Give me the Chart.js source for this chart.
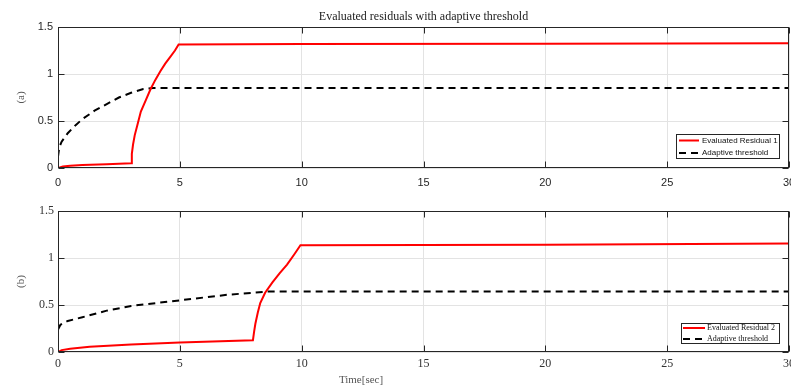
<!DOCTYPE html>
<html>
<head>
<meta charset="utf-8">
<script src="https://cdn.jsdelivr.net/npm/chart.js@4.4.1/dist/chart.umd.min.js"></script>
<style>
	html, body { margin: 0; padding: 0; background: #fff; }
	#wrap { position: relative; width: 791px; height: 387px; overflow: hidden; }
	canvas { position: absolute; left: 0; }
	#chartA { top: 0; }
	#chartB { top: 193px; }
</style>
</head>
<body>
<div id="wrap">
	<canvas id="chartA" width="791" height="193"></canvas>
	<canvas id="chartB" width="791" height="194"></canvas>
</div>
<script>
// tick labels
var xTicks = [0, 5, 10, 15, 20, 25, 30];
var yTicks = [0, 0.5, 1, 1.5];

// (a) residual 1 and its threshold
var res1Time = [0, 0.2, 0.5, 1, 2, 3, 3.03, 3.08, 3.15, 3.25, 3.4, 3.6, 3.8, 4.0, 4.2, 4.4, 4.6, 4.8, 4.95, 10, 20, 30];
var res1Vals = [0, 0.015, 0.025, 0.032, 0.04, 0.05, 0.15, 0.25, 0.35, 0.45, 0.6, 0.72, 0.84, 0.94, 1.03, 1.11, 1.18, 1.25, 1.315, 1.318, 1.322, 1.328];
var thr1Time = [0, 0.05, 0.15, 0.4, 0.7, 1, 1.5, 2, 2.5, 3, 3.5, 3.9, 30];
var thr1Vals = [0.12, 0.22, 0.28, 0.37, 0.45, 0.52, 0.61, 0.68, 0.75, 0.8, 0.84, 0.852, 0.852];

// (b) residual 2 and its threshold
var res2Time = [0, 0.15, 0.5, 1.3, 3, 5, 8, 8.05, 8.1, 8.2, 8.3, 8.5, 8.8, 9.1, 9.4, 9.7, 9.95, 20, 30];
var res2Vals = [0, 0.02, 0.035, 0.055, 0.08, 0.1, 0.125, 0.22, 0.3, 0.42, 0.52, 0.63, 0.74, 0.84, 0.93, 1.04, 1.135, 1.14, 1.155];
var thr2Time = [0, 0.1, 0.4, 1, 2, 3, 4, 5, 6, 7, 8, 8.6, 30];
var thr2Vals = [0.24, 0.29, 0.33, 0.37, 0.44, 0.49, 0.52, 0.55, 0.58, 0.61, 0.63, 0.643, 0.643];

function pts(ts, vs) {
	return ts.map(function (t, i) { return { x: t, y: vs[i] }; });
}

// box around the axes plus inward tick marks (matlab style)
var framePlugin = {
	id: 'frame',
	afterDatasetsDraw: function (chart) {
		var ctx = chart.ctx;
		var a = chart.chartArea;
		var x = chart.scales.x, y = chart.scales.y;
		var L = Math.round(a.left) + 0.5, R = Math.round(a.right) - 0.5;
		var T = Math.round(a.top) + 0.5, B = Math.round(a.bottom) - 0.5;
		var len = 6;
		ctx.save();
		ctx.strokeStyle = '#262626';
		ctx.lineWidth = 1;
		ctx.beginPath();
		x.ticks.forEach(function (t) {
			var px = Math.round(x.getPixelForValue(t.value)) + 0.5;
			ctx.moveTo(px, B); ctx.lineTo(px, B - len);
			ctx.moveTo(px, T); ctx.lineTo(px, T + len);
		});
		y.ticks.forEach(function (t) {
			var py = Math.round(y.getPixelForValue(t.value)) + 0.5;
			ctx.moveTo(L, py); ctx.lineTo(L + len, py);
			ctx.moveTo(R, py); ctx.lineTo(R - len, py);
		});
		ctx.stroke();
		ctx.strokeRect(L, T, R - L, B - T);
		ctx.restore();
	}
};

// legend box in the lower right corner of the plot + loose texts
var boxLegendPlugin = {
	id: 'boxLegend',
	afterDraw: function (chart, args, opts) {
		var ctx = chart.ctx;
		var a = chart.chartArea;
		var bx = Math.round(a.right - opts.right - opts.width) + 0.5;
		var by = Math.round(a.bottom - opts.bottom - opts.height) + 0.5;
		ctx.save();
		ctx.fillStyle = 'white';
		ctx.fillRect(bx, by, opts.width, opts.height);
		ctx.strokeStyle = '#262626';
		ctx.lineWidth = 1;
		ctx.strokeRect(bx, by, opts.width, opts.height);
		ctx.font = opts.font;
		ctx.textAlign = 'left';
		ctx.textBaseline = 'middle';
		chart.data.datasets.forEach(function (ds, i) {
			var ry = by + opts.firstRow + i * opts.rowStep;
			ctx.strokeStyle = ds.borderColor;
			ctx.lineWidth = ds.borderWidth;
			ctx.setLineDash(ds.borderDash || []);
			ctx.beginPath();
			ctx.moveTo(bx + opts.lineStart, ry);
			ctx.lineTo(bx + opts.lineStart + opts.lineLen, ry);
			ctx.stroke();
			ctx.setLineDash([]);
			ctx.fillStyle = '#111';
			ctx.fillText(ds.label, bx + opts.lineStart + opts.lineLen + opts.textGap, ry);
		});
		if (opts.note) {
			ctx.font = opts.note.font;
			ctx.fillStyle = opts.note.color;
			ctx.textAlign = 'center';
			ctx.fillText(opts.note.text, opts.note.x, opts.note.y);
		}
		ctx.restore();
	}
};

function makeScales(tickFont, tickColor, yTitle, xPad, yPad, xHeight) {
	return {
		x: {
			type: 'linear',
			min: 0,
			max: 30,
			afterBuildTicks: function (s) { s.ticks = xTicks.map(function (v) { return { value: v }; }); },
			afterFit: function (s) { s.height = xHeight; s.paddingLeft = 0; s.paddingRight = 0; },
			grid: { color: '#e3e3e3', drawTicks: false },
			border: { display: false },
			ticks: { font: tickFont, color: tickColor, padding: xPad, maxRotation: 0, autoSkip: false,
				callback: function (v) { return String(v); } }
		},
		y: {
			min: 0,
			max: 1.5,
			afterBuildTicks: function (s) { s.ticks = yTicks.map(function (v) { return { value: v }; }); },
			afterFit: function (s) { s.width = 58; },
			grid: { color: '#e3e3e3', drawTicks: false },
			border: { display: false },
			ticks: { font: tickFont, color: tickColor, padding: yPad,
				callback: function (v) { return String(v); } },
			title: {
				display: true,
				text: yTitle,
				color: '#555',
				font: { family: 'Liberation Serif', size: 11 },
				padding: { top: 15, bottom: 0 }
			}
		}
	};
}

function start() {
	var ctxA = document.getElementById('chartA').getContext('2d');
	var chartA = new Chart(ctxA, {
		type: 'line',
		data: {
			datasets: [{
				label: 'Evaluated Residual 1',
				data: pts(res1Time, res1Vals),
				borderColor: '#ff0000',
				borderWidth: 2,
				pointRadius: 0,
				tension: 0
			}, {
				label: 'Adaptive threshold',
				data: pts(thr1Time, thr1Vals),
				borderColor: '#000000',
				borderWidth: 2,
				borderDash: [7, 5],
				pointRadius: 0,
				tension: 0
			}]
		},
		options: {
			responsive: false,
			animation: false,
			layout: { padding: { left: 0, right: 2, top: 0, bottom: 0 } },
			scales: makeScales({ family: 'Liberation Sans', size: 11 }, '#262626', '(a)', 8, 5, 25),
			plugins: {
				legend: { display: false },
				tooltip: { enabled: false },
				title: {
					display: true,
					fullSize: false,
					text: 'Evaluated residuals with adaptive threshold',
					color: '#222',
					font: { family: 'Liberation Serif', size: 12, weight: 'normal', lineHeight: 1 },
					padding: { top: 11, bottom: 4 }
				},
				boxLegend: {
					right: 10, bottom: 10, width: 103, height: 24,
					font: '8px "Liberation Sans"',
					lineStart: 2.5, lineLen: 20, textGap: 3, firstRow: 6, rowStep: 12.5
				}
			}
		},
		plugins: [framePlugin, boxLegendPlugin]
	});

	var ctxB = document.getElementById('chartB').getContext('2d');
	var chartB = new Chart(ctxB, {
		type: 'line',
		data: {
			datasets: [{
				label: 'Evaluated Residual 2',
				data: pts(res2Time, res2Vals),
				borderColor: '#ff0000',
				borderWidth: 2,
				pointRadius: 0,
				tension: 0
			}, {
				label: 'Adaptive threshold',
				data: pts(thr2Time, thr2Vals),
				borderColor: '#000000',
				borderWidth: 2,
				borderDash: [7, 5],
				pointRadius: 0,
				tension: 0
			}]
		},
		options: {
			responsive: false,
			animation: false,
			layout: { padding: { left: 0, right: 2, top: 18, bottom: 0 } },
			scales: makeScales({ family: 'Liberation Serif', size: 12 }, '#333', '(b)', 5, 4, 35),
			plugins: {
				legend: { display: false },
				tooltip: { enabled: false },
				boxLegend: {
					right: 10, bottom: 9, width: 98, height: 20,
					font: '8px "Liberation Serif"',
					lineStart: 1.5, lineLen: 22, textGap: 2, firstRow: 4.5, rowStep: 11,
					note: { text: 'Time[sec]', x: 361, y: 187, font: '11px "Liberation Serif"', color: '#555' }
				}
			}
		},
		plugins: [framePlugin, boxLegendPlugin]
	});
}

window.onload = start;
</script>
</body>
</html>
